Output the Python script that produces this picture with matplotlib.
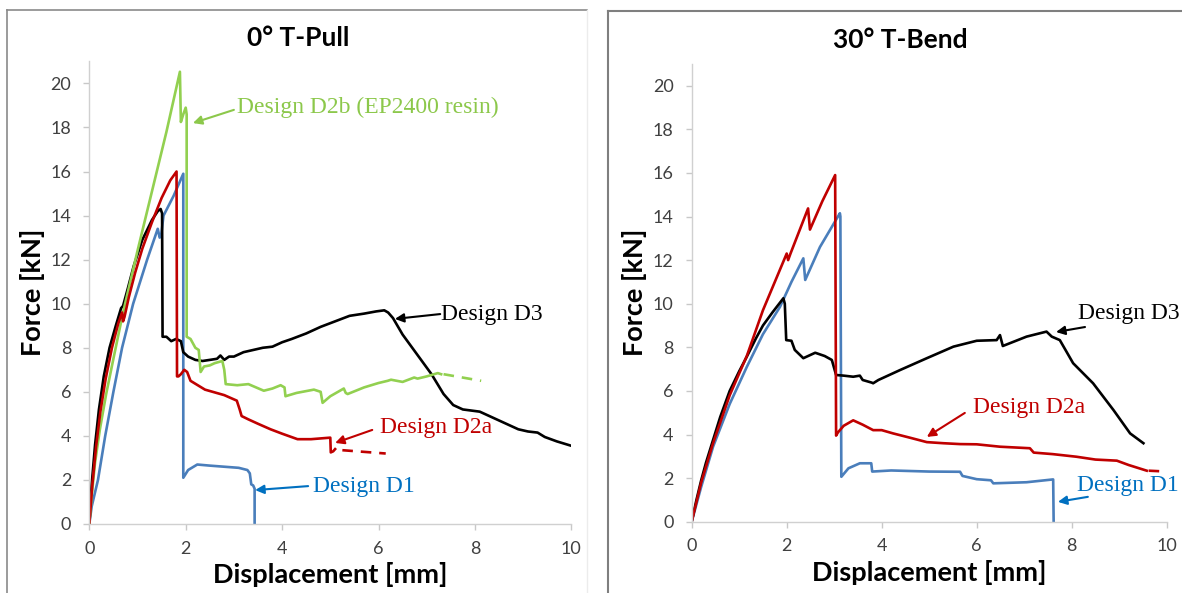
import matplotlib
matplotlib.use("Agg")
import matplotlib.pyplot as plt
from matplotlib.lines import Line2D

# ---------------- data: 0 deg T-Pull ----------------
pull_d1_x = [0, 0.05, 0.18, 0.33, 0.50, 0.68, 0.91, 1.20, 1.42, 1.46, 1.49, 1.54, 1.75, 1.95, 1.95, 2.05, 2.24, 2.50, 2.80, 3.10, 3.28, 3.33, 3.36, 3.40, 3.43, 3.43]
pull_d1_y = [0, 0.8, 2.0, 4.0, 6.0, 8.0, 10.0, 12.0, 13.4, 13.0, 13.1, 14.0, 14.9, 15.9, 2.1, 2.45, 2.7, 2.65, 2.6, 2.55, 2.45, 2.3, 1.8, 1.75, 1.6, 0]

pull_d2a_x = [0, 0.06, 0.14, 0.23, 0.34, 0.47, 0.60, 0.68, 0.70, 0.73, 0.82, 0.95, 1.10, 1.30, 1.50, 1.68, 1.81, 1.82, 1.85, 1.90, 1.97, 2.03, 2.10, 2.40, 2.80, 3.06, 3.12, 3.16, 3.30, 3.50, 3.76, 4.00, 4.32, 4.60, 5.00, 5.01, 5.06, 5.10]
pull_d2a_y = [0, 1.7, 3.5, 5.1, 6.6, 8.0, 9.1, 9.6, 9.2, 9.4, 10.3, 11.4, 12.5, 13.7, 14.8, 15.6, 16.0, 6.7, 6.7, 6.8, 7.0, 6.9, 6.5, 6.1, 5.85, 5.6, 5.2, 4.9, 4.75, 4.55, 4.3, 4.1, 3.85, 3.85, 3.92, 3.25, 3.3, 3.4]
pull_d2a_ext_x = [5.25, 6.15]
pull_d2a_ext_y = [3.35, 3.2]

pull_d2b_x = [0, 0.05, 0.12, 0.22, 0.35, 0.50, 0.70, 1.00, 1.30, 1.60, 1.88, 1.90, 1.95, 2.00, 2.02, 2.02, 2.10, 2.20, 2.27, 2.31, 2.38, 2.50, 2.60, 2.76, 2.80, 2.83, 3.07, 3.30, 3.62, 3.80, 3.97, 4.05, 4.07, 4.30, 4.66, 4.80, 4.84, 5.00, 5.28, 5.32, 5.36, 5.70, 6.00, 6.19, 6.26, 6.50, 6.74, 6.81, 7.00, 7.23, 7.30]
pull_d2b_y = [0, 1.3, 2.8, 4.3, 5.9, 7.5, 9.6, 12.4, 15.1, 17.8, 20.53, 18.25, 18.6, 18.9, 18.6, 8.5, 8.4, 8.0, 7.9, 6.9, 7.15, 7.2, 7.3, 7.4, 7.0, 6.35, 6.3, 6.35, 6.05, 6.15, 6.3, 6.2, 5.8, 5.95, 6.1, 6.0, 5.5, 5.8, 6.15, 5.95, 5.9, 6.2, 6.4, 6.5, 6.55, 6.45, 6.65, 6.6, 6.7, 6.85, 6.8]
pull_d2b_ext_x = [7.35, 8.13]
pull_d2b_ext_y = [6.8, 6.5]

pull_d3_x = [0, 0.05, 0.12, 0.20, 0.30, 0.42, 0.55, 0.66, 0.70, 0.80, 0.92, 1.10, 1.30, 1.42, 1.48, 1.51, 1.52, 1.60, 1.70, 1.80, 1.90, 1.95, 2.05, 2.20, 2.35, 2.50, 2.65, 2.72, 2.80, 2.90, 3.00, 3.20, 3.40, 3.60, 3.80, 4.00, 4.20, 4.50, 4.80, 5.10, 5.40, 5.70, 5.95, 6.12, 6.20, 6.30, 6.50, 6.80, 7.10, 7.35, 7.55, 7.75, 8.10, 8.45, 8.70, 8.90, 9.10, 9.30, 9.45, 9.70, 9.85, 10.0]
pull_d3_y = [0, 1.8, 3.6, 5.2, 6.7, 8.0, 9.0, 9.8, 9.9, 10.7, 11.7, 12.9, 13.8, 14.2, 14.3, 14.1, 8.5, 8.5, 8.3, 8.4, 8.3, 7.8, 7.6, 7.45, 7.4, 7.45, 7.5, 7.65, 7.45, 7.6, 7.6, 7.8, 7.9, 8.0, 8.05, 8.25, 8.4, 8.65, 8.95, 9.2, 9.45, 9.55, 9.65, 9.7, 9.6, 9.35, 8.6, 7.7, 6.8, 5.9, 5.4, 5.2, 5.1, 4.75, 4.5, 4.3, 4.2, 4.15, 3.95, 3.75, 3.65, 3.55]

# ---------------- data: 30 deg T-Bend ----------------
bend_d1_x = [0, 0.20, 0.45, 0.80, 1.16, 1.50, 1.86, 2.10, 2.35, 2.39, 2.70, 3.12, 3.13, 3.15, 3.30, 3.54, 3.78, 3.80, 4.20, 5.00, 5.65, 5.70, 6.00, 6.30, 6.35, 7.05, 7.61, 7.62]
bend_d1_y = [0, 1.6, 3.44, 5.4, 7.1, 8.6, 9.86, 11.0, 12.08, 11.09, 12.6, 14.15, 14.0, 2.06, 2.45, 2.68, 2.68, 2.3, 2.35, 2.3, 2.29, 2.1, 1.95, 1.9, 1.76, 1.81, 1.94, 0]

bend_d2a_x = [0, 0.20, 0.45, 0.80, 1.16, 1.50, 2.00, 2.03, 2.08, 2.45, 2.49, 2.75, 3.02, 3.04, 3.08, 3.20, 3.40, 3.60, 3.82, 4.00, 4.24, 4.60, 4.95, 5.30, 5.65, 6.00, 6.49, 7.12, 7.20, 7.60, 8.10, 8.50, 8.95, 9.20, 9.58]
bend_d2a_y = [0, 1.8, 3.6, 5.8, 7.6, 9.7, 12.3, 12.0, 12.3, 14.37, 13.4, 14.7, 15.9, 3.95, 4.1, 4.4, 4.65, 4.45, 4.2, 4.2, 4.05, 3.85, 3.65, 3.6, 3.56, 3.55, 3.44, 3.37, 3.17, 3.1, 2.98, 2.85, 2.8, 2.6, 2.34]
bend_d2a_ext_x = [9.62, 10.0]
bend_d2a_ext_y = [2.34, 2.3]

bend_d3_x = [0, 0.10, 0.20, 0.30, 0.45, 0.60, 0.80, 1.00, 1.16, 1.35, 1.50, 1.70, 1.93, 1.96, 1.99, 2.10, 2.17, 2.35, 2.45, 2.60, 2.80, 2.95, 3.04, 3.20, 3.40, 3.54, 3.60, 3.79, 3.82, 3.93, 4.39, 4.95, 5.51, 6.00, 6.42, 6.49, 6.55, 7.05, 7.47, 7.58, 7.75, 8.03, 8.45, 8.88, 9.23, 9.51]
bend_d3_y = [0, 1.0, 1.9, 2.7, 3.75, 4.8, 6.0, 6.9, 7.57, 8.4, 9.0, 9.6, 10.25, 10.0, 8.33, 8.3, 7.88, 7.5, 7.6, 7.75, 7.6, 7.42, 6.73, 6.7, 6.65, 6.7, 6.5, 6.38, 6.35, 6.5, 6.96, 7.5, 8.03, 8.3, 8.33, 8.56, 8.06, 8.49, 8.72, 8.49, 8.33, 7.27, 6.35, 5.12, 4.05, 3.6]

x_ticks = [0, 2, 4, 6, 8, 10]
y_ticks = [0, 2, 4, 6, 8, 10, 12, 14, 16, 18, 20]

# ---------------- styling ----------------
BLUE = "#4a7ebb"
RED = "#c00000"
GREEN = "#92d050"
BLACK = "#000000"
BLUE_T = "#0070c0"
RED_T = "#c00000"
GREEN_T = "#8cc84b"

SANS = ["Lato", "DejaVu Sans"]
SERIF = ["Liberation Serif", "DejaVu Serif"]

W, H = 1182, 593
fig = plt.figure(figsize=(W / 100, H / 100), dpi=100)
fig.patch.set_facecolor("white")


def fx(px):
    return px / W


def fy(py):
    return 1 - py / H


# panel frames
fig.add_artist(Line2D([fx(7), fx(7)], [fy(9.5), 0], color="#8a8a8a", lw=1.2))
fig.add_artist(Line2D([fx(7), fx(587)], [fy(9.5), fy(9.5)], color="#8a8a8a", lw=1.2))
fig.add_artist(Line2D([fx(587), fx(587)], [fy(9.5), 0], color="#ececec", lw=1.0))
fig.add_artist(Line2D([fx(608), fx(608)], [fy(11), 0], color="#7f7f7f", lw=1.5))
fig.add_artist(Line2D([fx(608), 1], [fy(11), fy(11)], color="#7f7f7f", lw=1.5))

ax1 = fig.add_axes([fx(89.3), fy(524), fx(571.3) - fx(89.3), fy(61.4) - fy(524)])
ax2 = fig.add_axes([fx(691.7), fy(521.7), fx(1166.7) - fx(691.7), fy(63.9) - fy(521.7)])

for ax in (ax1, ax2):
    ax.set_xlim(0, 10)
    ax.set_ylim(0, 21)
    ax.set_xticks(x_ticks)
    ax.set_yticks(y_ticks)
    for s in ("top", "right"):
        ax.spines[s].set_visible(False)
    for s in ("left", "bottom"):
        ax.spines[s].set_color("#d0d0d0")
        ax.spines[s].set_linewidth(1.0)
    ax.tick_params(axis="both", colors="#c8c8c8", labelcolor="#404040",
                   labelsize=13, length=4, width=1.0, direction="out")
    ax.tick_params(axis="y", pad=9)
    ax.tick_params(axis="x", pad=8)
    for lab in ax.get_xticklabels() + ax.get_yticklabels():
        lab.set_family(SANS)
    ax.set_xlabel("Displacement [mm]", family=SANS, fontweight="bold", fontsize=19.5, labelpad=4)
    ax.set_ylabel("Force [kN]", family=SANS, fontweight="bold", fontsize=19.5, labelpad=4)

LW = 1.9
# left panel
ax1.plot(pull_d1_x, pull_d1_y, color=BLUE, lw=LW)
ax1.plot(pull_d3_x, pull_d3_y, color=BLACK, lw=LW)
ax1.plot(pull_d2b_x, pull_d2b_y, color=GREEN, lw=LW)
ax1.plot(pull_d2b_ext_x, pull_d2b_ext_y, color=GREEN, lw=LW, ls=(0, (4, 3)))
ax1.plot(pull_d2a_x, pull_d2a_y, color=RED, lw=LW)
ax1.plot(pull_d2a_ext_x, pull_d2a_ext_y, color=RED, lw=LW, ls=(0, (4, 3)))

# right panel
ax2.plot(bend_d1_x, bend_d1_y, color=BLUE, lw=LW)
ax2.plot(bend_d3_x, bend_d3_y, color=BLACK, lw=LW)
ax2.plot(bend_d2a_x, bend_d2a_y, color=RED, lw=LW)
ax2.plot(bend_d2a_ext_x, bend_d2a_ext_y, color=RED, lw=LW, ls=(0, (4, 3)))


def note(ax, text, head, tail, tpos, color):
    ax.annotate("", xy=head, xytext=tail,
                arrowprops=dict(arrowstyle="-|>", color=color, lw=1.5,
                                mutation_scale=13, shrinkA=0, shrinkB=0))
    ax.text(tpos[0], tpos[1], text, color=color, family=SERIF, fontsize=17,
            ha="left", va="center", clip_on=False)


note(ax1, "Design D2b (EP2400 resin)", (2.15, 18.2), (3.0, 18.8), (3.06, 18.93), GREEN_T)
note(ax1, "Design D3", (6.34, 9.31), (7.28, 9.53), (7.3, 9.53), BLACK)
note(ax1, "Design D2a", (5.1, 3.68), (5.87, 4.27), (6.03, 4.4), RED_T)
note(ax1, "Design D1", (3.44, 1.54), (4.54, 1.72), (4.64, 1.72), BLUE_T)

note(ax2, "Design D3", (7.67, 8.7), (8.28, 8.93), (8.13, 9.57), BLACK)
note(ax2, "Design D2a", (4.95, 3.89), (5.75, 4.99), (5.92, 5.26), RED_T)
note(ax2, "Design D1", (7.71, 0.91), (8.34, 1.14), (8.11, 1.68), BLUE_T)

fig.text(fx(298), fy(38), "0° T-Pull", family=SANS, fontweight="bold", fontsize=19,
         ha="center", va="center")
fig.text(fx(900), fy(40), "30° T-Bend", family=SANS, fontweight="bold", fontsize=19,
         ha="center", va="center")

fig.savefig("out.png", dpi=100, facecolor="white")
